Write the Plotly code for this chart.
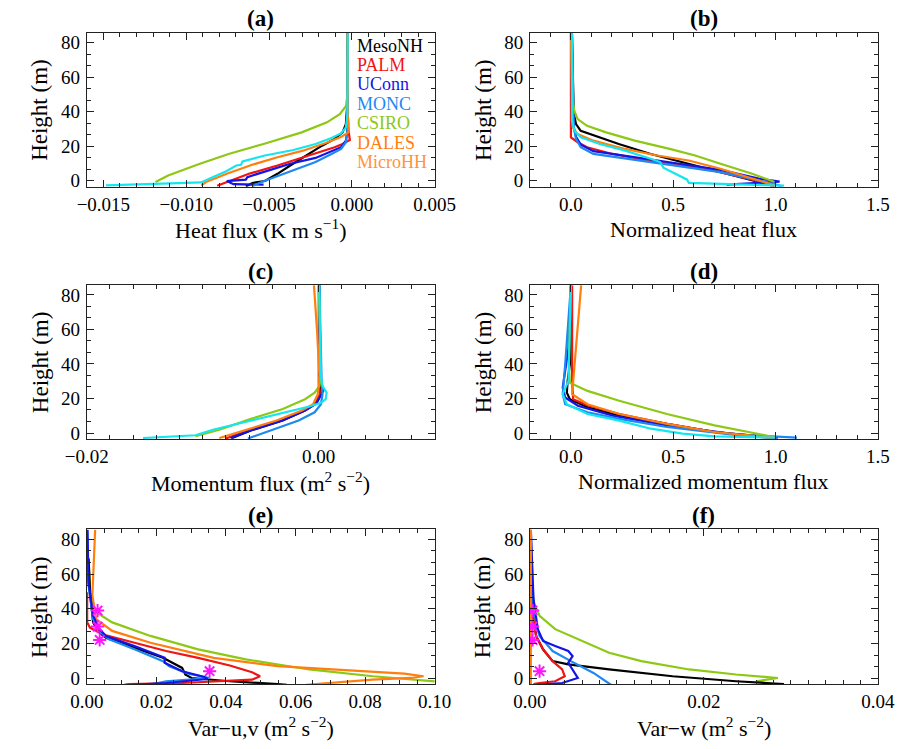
import plotly.graph_objects as go

# ---------------- data ----------------
MODEL_NAMES = ["MesoNH", "PALM", "UConn", "MONC", "CSIRO", "DALES", "MicroHH"]

# (a) heat flux (K m s-1)
A_MESONH_X = [-0.0064, -0.0060, -0.00525, -0.00449, -0.00372, -0.00276, -0.0018, -0.00104, -0.00056, -0.00036, -0.00027, -0.00025]
A_MESONH_Z = [-3.3, -1.3, -0.2, 4.0, 8.8, 14.6, 20.3, 24.2, 28.0, 32.8, 45.0, 85.5]
A_PALM_X = [-0.00813, -0.00736, -0.00621, -0.00449, -0.00257, -0.00104, -0.00056, -0.00012, -0.0002, -0.00025, -0.00025]
A_PALM_Z = [-2.9, -0.2, 4.0, 8.8, 14.6, 19.4, 21.3, 23.6, 28.9, 40.0, 85.5]
A_UCONN_X = [-0.00533, -0.00715, -0.00755, -0.0064, -0.00631, -0.00372, -0.00219, -0.00123, -0.00065, -0.00036, -0.00027, -0.00025]
A_UCONN_Z = [-2.3, -2.0, -0.2, 0.6, 2.1, 9.8, 13.2, 17.1, 19.4, 23.2, 28.9, 85.5]
A_MONC_X = [-0.00602, -0.00545, -0.0041, -0.00219, -0.00123, -0.00065, -0.00036, -0.00027, -0.00025]
A_MONC_Z = [-3.3, -0.75, 4.0, 10.8, 15.5, 18.4, 22.3, 28.9, 85.5]
A_CSIRO_X = [-0.01185, -0.01109, -0.00917, -0.00744, -0.00533, -0.00303, -0.0015, -0.00073, -0.00035, -0.00025, -0.00025]
A_CSIRO_Z = [-0.75, 3.05, 9.8, 15.5, 21.3, 28.0, 33.8, 38.6, 43.3, 51.0, 85.5]
A_DALES_X = [-0.00909, -0.0088, -0.00755, -0.00602, -0.00449, -0.00295, -0.00161, -0.0007, -0.0002, -0.00022, -0.00025, -0.00025]
A_DALES_Z = [-2.7, -0.75, 4.0, 9.2, 13.6, 17.4, 21.7, 25.1, 28.0, 31.8, 40.0, 85.5]
A_CYAN_X = [-0.01484, -0.01187, -0.00909, -0.00861, -0.00755, -0.00698, -0.00669, -0.0066, -0.00525, -0.00353, -0.00219, -0.00123, -0.00065, -0.00036, -0.00027, -0.00025]
A_CYAN_Z = [-2.7, -1.9, -1.0, 1.2, 5.6, 8.8, 9.2, 11.1, 14.6, 17.8, 21.3, 24.7, 27.4, 30.9, 38.6, 85.5]

# (b) normalized heat flux
B_MESONH_X = [0.98, 0.886, 0.731, 0.545, 0.39, 0.234, 0.11, 0.048, 0.025, 0.014, 0.005]
B_MESONH_Z = [-2.7, 0.2, 5.0, 10.8, 15.5, 21.3, 26.1, 28.9, 32.8, 38.6, 85.5]
B_PALM_X = [0.995, 0.886, 0.653, 0.421, 0.203, 0.079, 0.033, 0.0, 0.0]
B_PALM_Z = [-3.3, 0.6, 6.9, 10.8, 15.5, 19.4, 22.3, 25.1, 85.5]
B_UCONN_X = [0.76, 1.02, 0.918, 0.731, 0.498, 0.265, 0.11, 0.048, 0.025, 0.014, 0.009, 0.005]
B_UCONN_Z = [-2.3, -0.5, 1.2, 6.3, 10.4, 14.2, 17.1, 20.9, 25.5, 30.9, 38.6, 85.5]
B_MONC_X = [1.034, 0.918, 0.731, 0.498, 0.265, 0.11, 0.048, 0.025, 0.014, 0.005]
B_MONC_Z = [-3.3, 0.2, 5.0, 8.8, 12.7, 15.5, 19.4, 24.2, 30.9, 85.5]
B_CSIRO_X = [0.995, 0.886, 0.731, 0.607, 0.483, 0.312, 0.172, 0.079, 0.033, 0.017, 0.009, 0.005]
B_CSIRO_Z = [-0.75, 4.0, 9.8, 14.6, 18.4, 23.2, 28.0, 31.8, 35.7, 40.5, 46.2, 85.5]
B_DALES_X = [0.995, 0.886, 0.731, 0.576, 0.421, 0.265, 0.11, 0.033, 0.009, 0.0]
B_DALES_Z = [-2.7, 1.2, 6.9, 11.7, 14.6, 18.4, 23.2, 27.0, 30.9, 85.5]
B_CYAN_X = [1.042, 0.576, 0.568, 0.514, 0.452, 0.436, 0.39, 0.265, 0.141, 0.048, 0.017, 0.005, 0.005]
B_CYAN_Z = [-2.9, -1.3, 0.6, 4.0, 7.5, 10.8, 12.7, 17.4, 21.3, 25.1, 28.9, 34.7, 85.5]

# (c) momentum flux (m2 s-2)
C_MESONH_X = [-0.00748, -0.00584, -0.0031, -0.00118, -0.00022, 0.00019, 0.00006, 0.00006]
C_MESONH_Z = [-2.9, 1.5, 7.2, 13.0, 17.1, 22.5, 30.0, 85.5]
C_PALM_X = [-0.00803, -0.0060, -0.0032, -0.0012, -0.0003, 0.0001, 0.0, 0.0]
C_PALM_Z = [-3.2, 1.5, 7.2, 13.0, 17.1, 22.5, 30.0, 85.5]
C_UCONN_X = [-0.0076, -0.0059, -0.00315, -0.0012, -0.0002, 0.0004, 0.0001, 0.00006]
C_UCONN_Z = [-2.9, 1.5, 7.2, 13.0, 17.1, 24.6, 33.0, 85.5]
C_MONC_X = [-0.00611, -0.00419, -0.00173, -0.00035, 0.00019, 0.00033, 0.00025, 0.00006]
C_MONC_Z = [-3.2, 1.5, 7.2, 12.0, 16.7, 22.5, 29.9, 85.5]
C_CSIRO_X = [-0.01063, -0.00857, -0.00584, -0.0031, -0.00118, -0.00035, 0.00006, 0.00019, 0.00014, 0.0]
C_CSIRO_Z = [-1.9, 1.9, 8.2, 13.9, 19.6, 23.4, 27.2, 33.9, 50.0, 85.5]
C_DALES_X = [-0.00857, -0.00639, -0.00364, -0.00145, -0.00049, -0.00008, 0.00006, -0.00014, -0.00041]
C_DALES_Z = [-2.9, 1.5, 7.2, 13.0, 16.7, 22.5, 33.9, 58.7, 85.5]
C_CYAN_X = [-0.01515, -0.01063, -0.00912, -0.00639, -0.00364, -0.0009, 0.0002, 0.0006, 0.00068, 0.00033, 0.00014, 0.00006]
C_CYAN_Z = [-2.9, -1.3, 1.9, 6.3, 11.0, 15.2, 17.5, 19.6, 23.4, 27.2, 33.9, 85.5]

# (d) normalized momentum flux
D_MESONH_X = [0.997, 0.702, 0.469, 0.236, 0.081, -0.005, -0.02, -0.016, -0.005, 0.0]
D_MESONH_Z = [-2.7, 0.6, 5.3, 10.1, 14.9, 19.6, 23.4, 30.1, 40.0, 85.5]
D_PALM_X = [0.997, 0.702, 0.469, 0.236, 0.081, 0.011, 0.006, 0.006]
D_PALM_Z = [-3.2, 0.6, 5.3, 11.0, 16.1, 19.6, 30.0, 85.5]
D_UCONN_X = [1.012, 0.779, 0.469, 0.205, 0.034, -0.028, -0.04, -0.012, 0.0]
D_UCONN_Z = [-2.7, -0.4, 4.4, 10.1, 15.8, 20.6, 26.3, 49.0, 85.5]
D_MONC_X = [1.105, 0.779, 0.469, 0.236, 0.081, -0.028, -0.04, -0.028, 0.0]
D_MONC_Z = [-2.7, -0.8, 3.5, 8.2, 12.0, 16.7, 22.5, 39.6, 85.5]
D_CSIRO_X = [0.997, 0.95, 0.702, 0.469, 0.236, 0.081, -0.005, -0.01, 0.0]
D_CSIRO_Z = [-2.7, -1.3, 4.4, 11.0, 18.7, 24.4, 29.1, 40.0, 85.5]
D_DALES_X = [0.981, 0.702, 0.469, 0.236, 0.081, 0.006, 0.05]
D_DALES_Z = [-2.7, 0.6, 5.3, 11.0, 16.7, 22.5, 85.5]
D_CYAN_X = [0.997, 0.702, 0.546, 0.391, 0.236, 0.081, -0.02, -0.04, -0.012, 0.0]
D_CYAN_Z = [-2.7, -1.9, -0.4, 2.5, 7.2, 11.0, 16.7, 22.5, 30.1, 85.5]

# (e) variance of u,v (m2 s-2)
E_MESONH_X = [0.0575, 0.0548, 0.0411, 0.0301, 0.0283, 0.0274, 0.0219, 0.0137, 0.0055, 0.0037, 0.0018, 0.001, 0.0005]
E_MESONH_Z = [-3.7, -3.3, -1.7, 0.2, 2.2, 6.0, 11.8, 17.6, 23.4, 26.3, 32.2, 47.7, 69.0]
E_PALM_X = [0.0108, 0.0119, 0.0274, 0.0384, 0.0475, 0.0498, 0.0475, 0.0411, 0.032, 0.0228, 0.0137, 0.0055, 0.0023, 0.0009, 0.0001, 0.0001]
E_PALM_Z = [-3.7, -3.3, -2.7, -1.7, -0.8, 1.2, 3.5, 7.4, 11.8, 15.7, 20.5, 24.8, 27.7, 29.2, 32.2, 49.6]
E_UCONN_X = [0.0128, 0.0228, 0.0347, 0.0338, 0.0274, 0.0224, 0.0224, 0.0137, 0.0055, 0.0037, 0.0018, 0.0005, 0.0002]
E_UCONN_Z = [-3.7, -2.7, -0.4, 0.8, 4.1, 8.9, 11.8, 18.6, 24.4, 28.3, 36.0, 55.0, 85.5]
E_MONC_X = [0.018, 0.0228, 0.0352, 0.0292, 0.0237, 0.0219, 0.0137, 0.0064, 0.0041, 0.0018, 0.0004, 0.0001]
E_MONC_Z = [-3.7, -1.7, 0.2, 2.7, 7.0, 9.9, 16.7, 22.5, 26.3, 34.1, 55.0, 85.5]
E_CSIRO_X = [0.105, 0.1003, 0.0822, 0.0639, 0.0457, 0.032, 0.0183, 0.0073, 0.0027, 0.001, 0.0005]
E_CSIRO_Z = [-2.5, -1.7, 1.2, 5.1, 10.9, 16.7, 24.4, 32.2, 38.0, 47.7, 69.0]
E_DALES_X = [0.063, 0.0822, 0.0932, 0.0968, 0.0913, 0.0731, 0.0548, 0.0365, 0.0183, 0.0073, 0.0027, 0.0016, 0.0019, 0.0024]
E_DALES_Z = [-3.7, -0.8, 0.2, 1.2, 2.7, 4.7, 7.0, 11.8, 20.5, 27.3, 34.1, 47.7, 67.0, 85.5]
E_STAR_X = [0.0031, 0.0031, 0.0037, 0.0353]
E_STAR_Z = [39.0, 29.8, 22.1, 4.1]

# (f) variance of w (m2 s-2)
F_MESONH_X = [0.0287, 0.0292, 0.0237, 0.0164, 0.0091, 0.0044, 0.0026, 0.0015, 0.0007, 0.0003, 0.0001]
F_MESONH_Z = [-4.2, -3.3, -1.7, 1.2, 5.1, 8.0, 9.9, 16.7, 24.4, 40.0, 60.0]
F_PALM_X = [0.0004, 0.0011, 0.0029, 0.004, 0.0037, 0.0026, 0.0015, 0.0007, 0.0002]
F_PALM_Z = [-3.3, -2.7, -1.7, 1.2, 5.1, 9.9, 16.7, 24.4, 40.0]
F_UCONN_X = [0.0007, 0.0037, 0.0055, 0.0049, 0.0044, 0.0049, 0.0044, 0.0029, 0.0015, 0.0009, 0.0004, 0.0001]
F_UCONN_Z = [-3.7, -2.7, 0.2, 5.1, 8.9, 12.8, 15.7, 18.6, 21.5, 28.3, 45.7, 85.5]
F_MONC_X = [0.0093, 0.0073, 0.0047, 0.0026, 0.0011, 0.0005, 0.0002, 0.0001]
F_MONC_Z = [-3.7, 3.1, 9.9, 15.7, 24.4, 34.1, 60.0, 85.5]
F_CSIRO_X = [0.0276, 0.026, 0.0285, 0.0237, 0.0183, 0.0128, 0.0091, 0.0055, 0.0029, 0.0011, 0.0004, 0.0002]
F_CSIRO_Z = [-3.1, -1.7, 0.2, 2.2, 5.1, 9.9, 14.7, 22.5, 28.3, 36.0, 43.8, 67.0]
F_DALES_X = [0.0001, 0.0001]
F_DALES_Z = [-3.7, 85.5]
F_STAR_X = [0.0003, 0.0003, 0.0003, 0.0011]
F_STAR_Z = [39.0, 29.8, 22.1, 4.1]

PANEL_LABELS = ["(a)", "(b)", "(c)", "(d)", "(e)", "(f)"]
X_TITLES = ["Heat flux (K m s<sup>−1</sup>)", "Normalized heat flux",
            "Momentum flux (m<sup>2</sup> s<sup>−2</sup>)", "Normalized momentum flux",
            "Var−u,v (m<sup>2</sup> s<sup>−2</sup>)", "Var−w (m<sup>2</sup> s<sup>−2</sup>)"]
Y_TITLE = "Height (m)"
Y_TICKS = [0, 20, 40, 60, 80]

# ---------------- style ----------------
C_BLACK, C_RED, C_BLUE, C_MONC = "#000000", "#f01414", "#1414e6", "#1e88f0"
C_GREEN, C_ORANGE, C_MICRO, C_CYAN = "#8cc814", "#ff7f0e", "#ff9438", "#14e6f0"
C_STAR = "#ff14ff"
LEGEND_COLORS = [C_BLACK, C_RED, C_BLUE, C_MONC, C_GREEN, C_ORANGE, C_MICRO]
FONT = "Liberation Serif"
W, H = 916, 749

panels = [
    [(A_MESONH_X, A_MESONH_Z, C_BLACK), (A_PALM_X, A_PALM_Z, C_RED), (A_UCONN_X, A_UCONN_Z, C_BLUE),
     (A_MONC_X, A_MONC_Z, C_MONC), (A_CSIRO_X, A_CSIRO_Z, C_GREEN), (A_DALES_X, A_DALES_Z, C_ORANGE),
     (A_CYAN_X, A_CYAN_Z, C_CYAN)],
    [(B_MESONH_X, B_MESONH_Z, C_BLACK), (B_PALM_X, B_PALM_Z, C_RED), (B_UCONN_X, B_UCONN_Z, C_BLUE),
     (B_MONC_X, B_MONC_Z, C_MONC), (B_CSIRO_X, B_CSIRO_Z, C_GREEN), (B_DALES_X, B_DALES_Z, C_ORANGE),
     (B_CYAN_X, B_CYAN_Z, C_CYAN)],
    [(C_MESONH_X, C_MESONH_Z, C_BLACK), (C_PALM_X, C_PALM_Z, C_RED), (C_UCONN_X, C_UCONN_Z, C_BLUE),
     (C_MONC_X, C_MONC_Z, C_MONC), (C_CSIRO_X, C_CSIRO_Z, C_GREEN), (C_DALES_X, C_DALES_Z, C_ORANGE),
     (C_CYAN_X, C_CYAN_Z, C_CYAN)],
    [(D_MESONH_X, D_MESONH_Z, C_BLACK), (D_PALM_X, D_PALM_Z, C_RED), (D_UCONN_X, D_UCONN_Z, C_BLUE),
     (D_MONC_X, D_MONC_Z, C_MONC), (D_CSIRO_X, D_CSIRO_Z, C_GREEN), (D_DALES_X, D_DALES_Z, C_ORANGE),
     (D_CYAN_X, D_CYAN_Z, C_CYAN)],
    [(E_CSIRO_X, E_CSIRO_Z, C_GREEN), (E_DALES_X, E_DALES_Z, C_ORANGE), (E_MESONH_X, E_MESONH_Z, C_BLACK),
     (E_PALM_X, E_PALM_Z, C_RED), (E_MONC_X, E_MONC_Z, C_MONC), (E_UCONN_X, E_UCONN_Z, C_BLUE)],
    [(F_CSIRO_X, F_CSIRO_Z, C_GREEN), (F_MESONH_X, F_MESONH_Z, C_BLACK), (F_MONC_X, F_MONC_Z, C_MONC),
     (F_PALM_X, F_PALM_Z, C_RED), (F_UCONN_X, F_UCONN_Z, C_BLUE), (F_DALES_X, F_DALES_Z, C_ORANGE)],
]
stars = {4: (E_STAR_X, E_STAR_Z), 5: (F_STAR_X, F_STAR_Z)}

x_ranges = [[-0.016, 0.005], [-0.2, 1.5], [-0.02, 0.01], [-0.2, 1.5], [0, 0.1], [0, 0.04]]
x_tickvals = [[-0.015, -0.010, -0.005, 0.0, 0.005], [0, 0.5, 1.0, 1.5], [-0.02, 0.0],
              [0, 0.5, 1.0, 1.5], [0, 0.02, 0.04, 0.06, 0.08, 0.1], [0, 0.02, 0.04]]
x_fmt = [".3f", ".1f", ".2f", ".1f", ".2f", ".2f"]
x_minor = [0.001, 0.1, 0.002, 0.1, 0.005, 0.002]

# pixel geometry of plotting areas
col_px = [(68, 433), (533, 898)]
row_px = [(33, 188), (287, 442), (533, 689)]

fig = go.Figure()
annotations = []
for i in range(6):
    r, c = divmod(i, 2)
    xa = "x" if i == 0 else f"x{i+1}"
    ya = "y" if i == 0 else f"y{i+1}"
    for xs, zs, col in panels[i]:
        fig.add_trace(go.Scatter(x=xs, y=zs, mode="lines", xaxis=xa, yaxis=ya,
                                 line=dict(color=col, width=2.2), showlegend=False,
                                 hoverinfo="skip"))
    if i in stars:
        sx, sz = stars[i]
        fig.add_trace(go.Scatter(x=sx, y=sz, mode="markers", xaxis=xa, yaxis=ya,
                                 marker=dict(symbol="asterisk-open", size=11, color=C_STAR,
                                             line=dict(color=C_STAR, width=2)),
                                 showlegend=False, hoverinfo="skip"))
    x0, x1 = col_px[c]
    y0, y1 = row_px[r]
    axcommon = dict(showline=True, linecolor="#222", linewidth=1, mirror="allticks",
                    ticks="inside", ticklen=7, tickcolor="#222", showgrid=False, zeroline=False,
                    tickfont=dict(family=FONT, size=19, color="black"))
    xkey = "xaxis" if i == 0 else f"xaxis{i+1}"
    ykey = "yaxis" if i == 0 else f"yaxis{i+1}"
    fig.update_layout(**{
        xkey: dict(domain=[x0 / W, x1 / W], anchor=ya, range=x_ranges[i],
                   tickvals=x_tickvals[i], tickformat=x_fmt[i],
                   minor=dict(ticks="inside", ticklen=4, dtick=x_minor[i], tickcolor="#222"),
                   **axcommon),
        ykey: dict(domain=[1 - y1 / H, 1 - y0 / H], anchor=xa, range=[-3.5, 85.7],
                   tickvals=Y_TICKS, ticklabelstandoff=2,
                   minor=dict(ticks="inside", ticklen=4, tick0=0, dtick=20 / 3, tickcolor="#222"),
                   **axcommon),
    })
    xc = (x0 + x1) / 2
    annotations.append(dict(text=f"<b>{PANEL_LABELS[i]}</b>", x=xc / W, y=1 - (y0 - 14) / H,
                            xref="paper", yref="paper", showarrow=False, xanchor="center",
                            yanchor="middle", font=dict(family=FONT, size=23, color="black")))
    annotations.append(dict(text=X_TITLES[i], x=xc / W, y=1 - (y1 + 43) / H,
                            xref="paper", yref="paper", showarrow=False, xanchor="center",
                            yanchor="middle", font=dict(family=FONT, size=22, color="black")))
    annotations.append(dict(text=Y_TITLE, x=(x0 - 49) / W, y=1 - ((y0 + y1) / 2) / H,
                            xref="paper", yref="paper", showarrow=False, xanchor="center",
                            yanchor="middle", textangle=-90,
                            font=dict(family=FONT, size=23, color="black")))

# model legend in panel (a)
for k, name in enumerate(MODEL_NAMES):
    annotations.append(dict(text=name, x=350 / W, y=1 - (46 + 19.5 * k) / H,
                            xref="paper", yref="paper", showarrow=False, xanchor="left",
                            yanchor="middle", borderpad=0,
                            font=dict(family=FONT, size=18, color=LEGEND_COLORS[k])))

fig.update_layout(width=W, height=H, margin=dict(l=0, r=0, t=0, b=0),
                  paper_bgcolor="white", plot_bgcolor="white",
                  annotations=annotations, showlegend=False)
fig.write_html("out.html")
